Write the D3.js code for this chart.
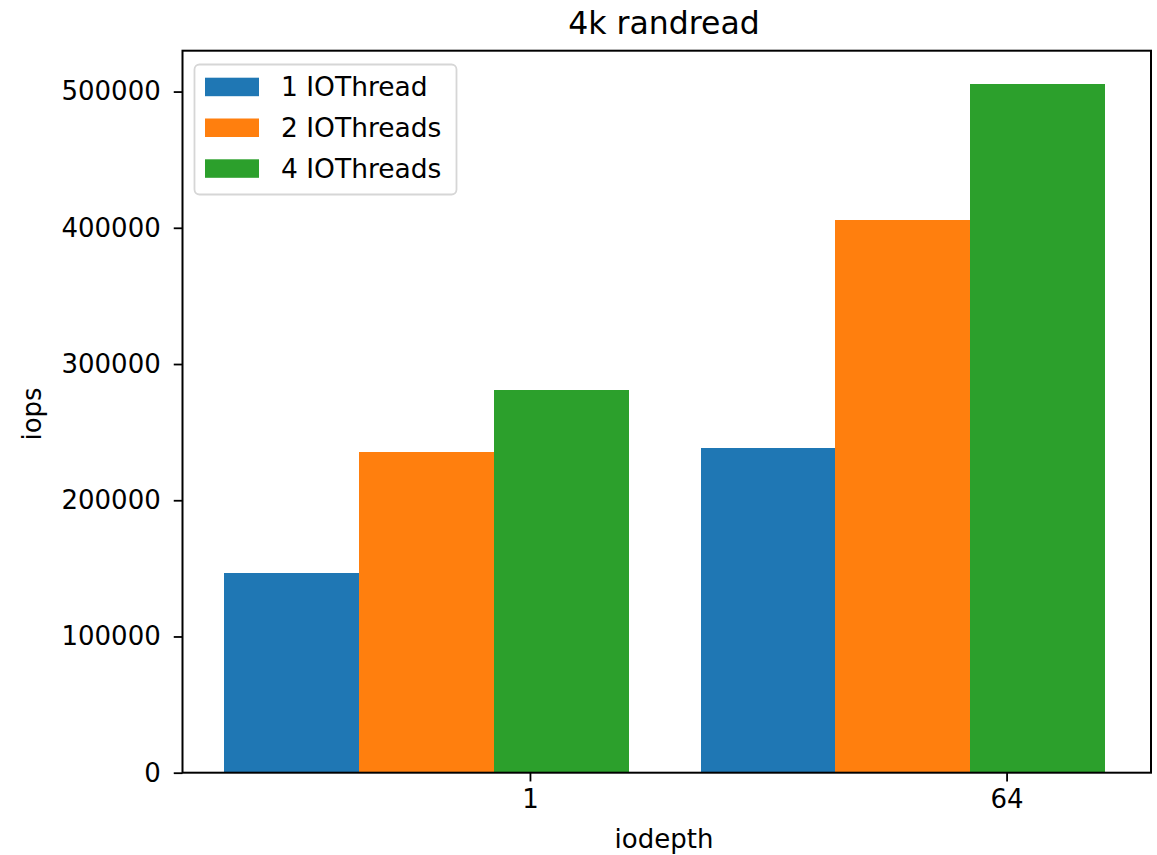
<!DOCTYPE html>
<html>
<head>
<meta charset="utf-8">
<script src="https://cdn.jsdelivr.net/npm/d3@7"></script>
<style>
  body { margin: 0; background: #fff; }
  text { font-family: "DejaVu Sans", sans-serif; fill: #000; }
</style>
</head>
<body>
<div id="chart"></div>
<script>
// data
const categories = ['1', '64'];
const seriesNames = ['1 IOThread', '2 IOThreads', '4 IOThreads'];
const iops1 = [146400, 238400];
const iops2 = [235300, 406000];
const iops4 = [281200, 505400];
const yTicks = [0, 100000, 200000, 300000, 400000, 500000];

const series = [iops1, iops2, iops4];
const colors = ['#1f77b4', '#ff7f0e', '#2ca02c'];

const width = 1157, height = 855;
const plotLeft = 182.5, plotRight = 1151, plotTop = 50.7, plotBottom = 772.7;
const barW = 0.283, barStart = -0.642;

const svg = d3.select('#chart')
  .append('svg')
  .attr('width', width)
  .attr('height', height);

const x = d3.scaleLinear().domain([-0.729, 1.303]).range([plotLeft, plotRight]);
const y = d3.scaleLinear().domain([0, 530000]).range([plotBottom, plotTop]);

// bars
series.forEach((vals, s) => {
  svg.append('g').selectAll('rect')
    .data(vals)
    .enter()
    .append('rect')
    .attr('x', (d, i) => x(i + barStart + s * barW))
    .attr('width', x(barW) - x(0))
    .attr('y', d => y(d))
    .attr('height', d => y(0) - y(d))
    .attr('fill', colors[s])
    .attr('shape-rendering', 'crispEdges');
});

// axes
const xAxis = d3.axisBottom(x)
  .tickValues([0, 1])
  .tickFormat(i => categories[i])
  .tickSize(8.75)
  .tickPadding(8);
const gx = svg.append('g')
  .attr('transform', `translate(0,${plotBottom})`)
  .call(xAxis);
gx.select('.domain').remove();

const yAxis = d3.axisLeft(y)
  .tickValues(yTicks)
  .tickFormat(d3.format('d'))
  .tickSize(8.75)
  .tickPadding(13);
const gy = svg.append('g')
  .attr('transform', `translate(${plotLeft},0)`)
  .call(yAxis);
gy.select('.domain').remove();

[gx, gy].forEach(g => {
  g.selectAll('line').attr('stroke', '#000').attr('stroke-width', 1.8);
  g.selectAll('text').style('font-size', '26px').attr('fill', '#000');
});
gx.selectAll('text').attr('dy', '0.71em');

// frame
svg.append('rect')
  .attr('x', plotLeft).attr('y', plotTop)
  .attr('width', plotRight - plotLeft).attr('height', plotBottom - plotTop)
  .attr('fill', 'none')
  .attr('stroke', '#000')
  .attr('stroke-width', 2);

// labels
svg.append('text')
  .attr('x', 664).attr('y', 34)
  .attr('text-anchor', 'middle')
  .style('font-size', '31.5px')
  .text('4k randread');

svg.append('text')
  .attr('x', 664).attr('y', 848)
  .attr('text-anchor', 'middle')
  .style('font-size', '26px')
  .text('iodepth');

svg.append('text')
  .attr('transform', 'translate(41,414) rotate(-90)')
  .attr('text-anchor', 'middle')
  .style('font-size', '26px')
  .text('iops');

// legend
const lg = svg.append('g');
lg.append('rect')
  .attr('x', 194.5).attr('y', 64.5)
  .attr('width', 262).attr('height', 130)
  .attr('rx', 5)
  .attr('fill', '#fff').attr('fill-opacity', 0.8)
  .attr('stroke', '#d6d6d6').attr('stroke-width', 1.8);

const items = lg.selectAll('g.item')
  .data(seriesNames)
  .enter()
  .append('g')
  .attr('class', 'item')
  .attr('transform', (d, i) => `translate(205,${77.7 + i * 40.8})`);
items.append('rect')
  .attr('width', 54).attr('height', 18.5)
  .attr('fill', (d, i) => colors[i]);
items.append('text')
  .attr('x', 76).attr('y', 18.5)
  .style('font-size', '26.5px')
  .text(d => d);
</script>
</body>
</html>
